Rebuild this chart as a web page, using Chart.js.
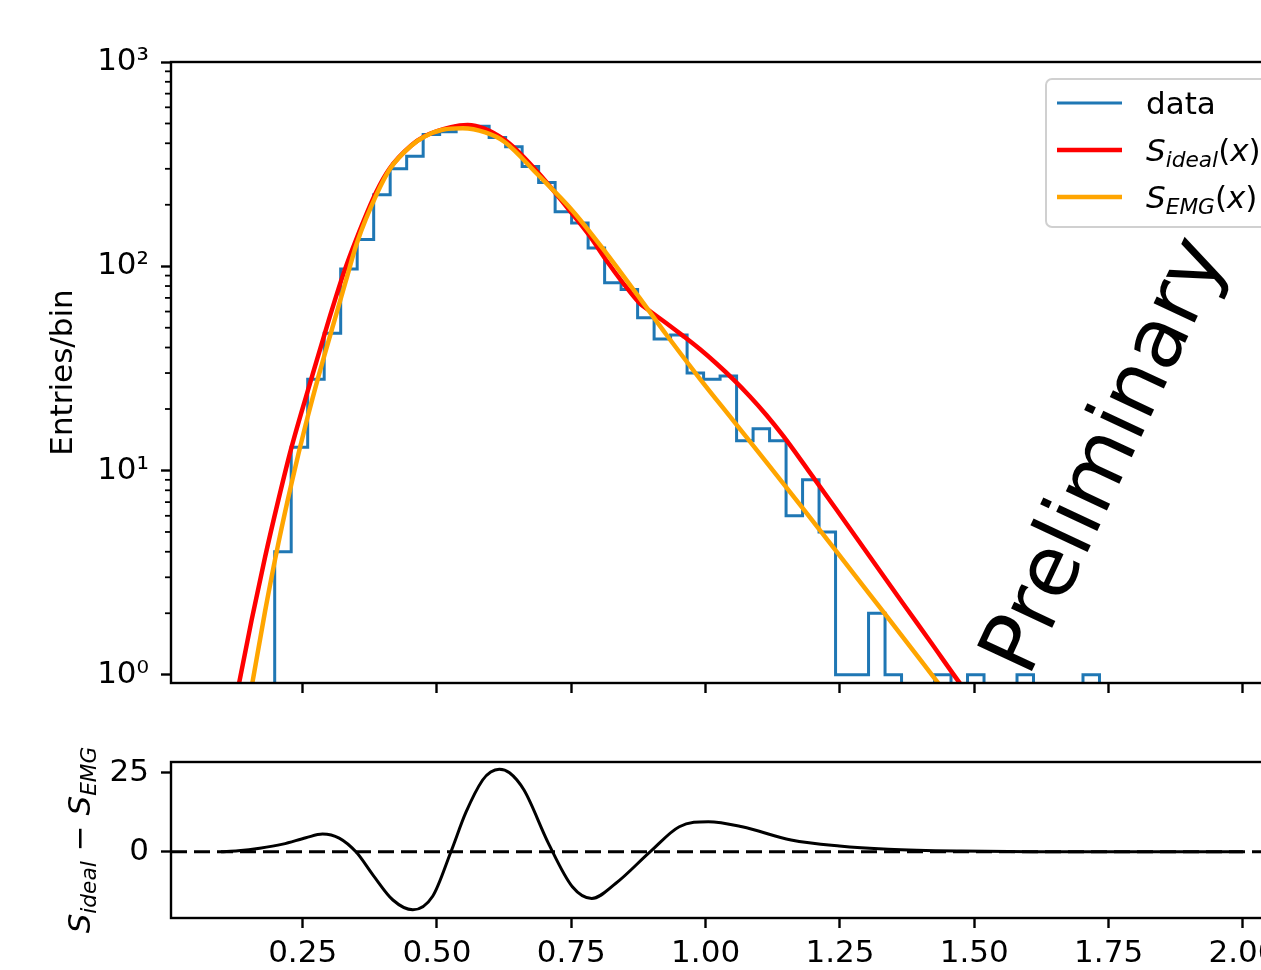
<!DOCTYPE html>
<html>
<head>
<meta charset="utf-8">
<script src="https://cdn.jsdelivr.net/npm/chart.js@4.4.0/dist/chart.umd.min.js"></script>
<style>
  html, body { margin: 0; padding: 0; background: #fff; overflow: hidden; }
  #wrap { position: relative; width: 1330px; height: 970px; }
  #top { position: absolute; left: 0; top: 0; }
  #bottom { position: absolute; left: 0; top: 720px; }
</style>
</head>
<body>
<div id="wrap">
  <canvas id="top" width="1330" height="720"></canvas>
  <canvas id="bottom" width="1330" height="250"></canvas>
</div>
<script>
// ===== histogram + fits =====
const FONT = "'DejaVu Sans', 'Liberation Sans', sans-serif";
const FS = 31;

// histogram: 50 equal bins between binLo and binHi
const binLo = 0.198, binHi = 1.733, nBins = 50;
const counts = [
  4, 13, 28, 47, 97, 135, 224, 300, 346, 442,
  455, 487, 484, 427, 385, 308, 257, 185, 163, 123,
  83, 77, 56, 44, 46, 30, 28, 29, 14, 16,
  14, 6, 9, 5, 1, 1, 2, 1, 0, 0,
  1, 0, 1, 0, 0, 1, 0, 0, 0, 1
];

// S_ideal(x)
const idealX = [0.126, 0.131, 0.155, 0.180, 0.205, 0.229, 0.266, 0.300, 0.326, 0.350, 0.387, 0.412, 0.452, 0.477, 0.526, 0.557,
  0.626, 0.688, 0.750, 0.784, 0.815, 0.846, 0.877, 0.896, 0.927, 0.958, 0.989, 1.020, 1.051, 1.082, 1.113, 1.144, 1.190,
  1.243, 1.305, 1.367, 1.420, 1.473, 1.486];
const idealY = [0.76, 0.89, 1.85, 3.76, 7.2, 12.9, 28, 56, 92, 136, 231, 301, 390, 433, 480, 492,
  416, 288, 183, 141, 107, 83, 66, 60.4, 52.6, 45.6, 39.3, 33.4, 28.0, 23.1, 18.7, 14.8, 10.1,
  6.46, 3.80, 2.24, 1.43, 0.91, 0.82];

// S_EMG(x)
const emgX = [0.152, 0.157, 0.180, 0.205, 0.230, 0.255, 0.280, 0.305, 0.330, 0.351, 0.388, 0.413, 0.452, 0.477, 0.510, 0.548,
  0.590, 0.626, 0.687, 0.753, 0.815, 0.877, 0.927, 0.989, 1.051, 1.113, 1.181, 1.243, 1.305, 1.367, 1.430, 1.440];
const emgY = [0.79, 0.93, 2.04, 4.42, 8.81, 16.5, 29.2, 49.7, 84.1, 130, 226, 301, 389, 432, 466, 474,
  452, 406, 282, 186, 116, 70, 46.2, 28.2, 17.6, 11.0, 6.53, 4.03, 2.48, 1.53, 0.93, 0.86];

// S_ideal - S_EMG
const diffX = [0.098, 0.130, 0.170, 0.213, 0.256, 0.287, 0.318, 0.350, 0.381, 0.418, 0.455, 0.492, 0.526, 0.554, 0.585, 0.600,
  0.616, 0.635, 0.662, 0.707, 0.752, 0.788, 0.833, 0.897, 0.951, 1.005, 1.068, 1.159, 1.249, 1.340, 1.475, 1.611, 2.000];
const diffY = [0, 0.3, 1.1, 2.4, 4.4, 5.6, 4.3, -0.2, -7.4, -15.3, -18.4, -14.1, 0, 12.5, 22.7, 25.2,
  26.1, 25.0, 19.5, 2.8, -11.1, -14.8, -10.0, 0, 7.9, 9.5, 7.9, 3.7, 1.8, 0.8, 0.2, 0, 0];

// axes
const xMin = 0.005, xMax = 2.095;
const xTicks = [0.25, 0.5, 0.75, 1.0, 1.25, 1.5, 1.75, 2.0];
const logMin = 0.911, logMax = 1000;
const logTicks = [1, 10, 100, 1000];
const logTickLabels = ['10⁰', '10¹', '10²', '10³'];
const diffMin = -21.0, diffMax = 28.4;
const diffTicks = [0, 25];

// texts
const yTitleTop = 'Entries/bin';
const legendRows = [
  { ds: 2, parts: [{ t: 'data' }] },
  { ds: 1, parts: [{ t: 'S', i: 1 }, { t: 'ideal', i: 1, sub: 1 }, { t: '(' }, { t: 'x', i: 1 }, { t: ')' }] },
  { ds: 0, parts: [{ t: 'S', i: 1 }, { t: 'EMG', i: 1, sub: 1 }, { t: '(' }, { t: 'x', i: 1 }, { t: ')' }] }
];
const diffLabel = [{ t: 'S', i: 1 }, { t: 'ideal', i: 1, sub: 1 }, { t: ' − ' }, { t: 'S', i: 1 }, { t: 'EMG', i: 1, sub: 1 }];
const watermarkText = 'Preliminary';
const watermarkAt = { x: 1.601, y: 0.958 };
const watermarkAngle = 65;

// ----- build the step outline of the histogram -----
const binW = (binHi - binLo) / nBins;
const floorVal = logMin / 4; // empty bins fall below the axis
const histPts = [{ x: binLo, y: floorVal }];
counts.forEach((c, i) => {
  const y = c > 0 ? c : floorVal;
  histPts.push({ x: binLo + i * binW, y }, { x: binLo + (i + 1) * binW, y });
});
histPts.push({ x: binHi, y: floorVal });

const pts = (xs, ys) => xs.map((x, i) => ({ x, y: ys[i] }));

// mathtext-ish run: italic pieces and subscripts
function mathWidth(ctx, parts, size) {
  let w = 0;
  parts.forEach(p => {
    ctx.font = (p.i ? 'italic ' : '') + (p.sub ? size * 0.7 : size) + 'px ' + FONT;
    w += ctx.measureText(p.t).width;
  });
  return w;
}
function drawMath(ctx, parts, size, x, y) {
  let cx = x;
  parts.forEach(p => {
    ctx.font = (p.i ? 'italic ' : '') + (p.sub ? size * 0.7 : size) + 'px ' + FONT;
    ctx.fillText(p.t, cx, y + (p.sub ? size * 0.2 : 0));
    cx += ctx.measureText(p.t).width;
  });
}

// ----- plugins -----
const frame = {
  id: 'frame',
  afterDatasetsDraw(chart) {
    const { ctx, chartArea: a } = chart;
    ctx.save();
    ctx.strokeStyle = '#000';
    ctx.lineWidth = 2.4;
    ctx.strokeRect(a.left, a.top, a.right - a.left, a.bottom - a.top);
    ctx.restore();
  }
};

const minorTicks = {
  id: 'minorTicks',
  afterDraw(chart) {
    const y = chart.scales.y, left = chart.chartArea.left, ctx = chart.ctx;
    ctx.save();
    ctx.strokeStyle = '#000';
    ctx.lineWidth = 1.8;
    for (let e = -1; e < 3; e++) {
      for (let m = 2; m < 10; m++) {
        const v = m * Math.pow(10, e);
        if (v < y.min || v > y.max) continue;
        const py = y.getPixelForValue(v);
        ctx.beginPath();
        ctx.moveTo(left, py);
        ctx.lineTo(left - 6, py);
        ctx.stroke();
      }
    }
    ctx.restore();
  }
};

const watermark = {
  id: 'watermark',
  afterDatasetsDraw(chart) {
    const { ctx, scales } = chart;
    ctx.save();
    ctx.translate(scales.x.getPixelForValue(watermarkAt.x), scales.y.getPixelForValue(watermarkAt.y));
    ctx.rotate(-watermarkAngle * Math.PI / 180);
    ctx.font = '83px ' + FONT;
    ctx.fillStyle = '#000';
    ctx.textBaseline = 'alphabetic';
    ctx.fillText(watermarkText, 0, 0);
    ctx.restore();
  }
};

const legendBox = {
  id: 'legendBox',
  afterDraw(chart) {
    const { ctx, chartArea: a } = chart;
    const left = a.right - 248, top = a.top + 17, h = 148;
    let tw = 0;
    legendRows.forEach(r => { tw = Math.max(tw, mathWidth(ctx, r.parts, FS)); });
    const w = 100 + tw + 14;
    ctx.save();
    ctx.beginPath();
    ctx.roundRect(left, top, w, h, 6);
    ctx.fillStyle = 'rgba(255,255,255,0.8)';
    ctx.fill();
    ctx.strokeStyle = '#d0d0d0';
    ctx.lineWidth = 2;
    ctx.stroke();
    legendRows.forEach((r, i) => {
      const ds = chart.data.datasets[r.ds];
      const cy = top + 24 + i * 47;
      ctx.strokeStyle = ds.borderColor;
      ctx.lineWidth = ds.borderWidth;
      ctx.beginPath();
      ctx.moveTo(left + 11, cy);
      ctx.lineTo(left + 76, cy);
      ctx.stroke();
      ctx.fillStyle = '#000';
      ctx.textBaseline = 'alphabetic';
      drawMath(ctx, r.parts, FS, left + 100, cy + 11);
    });
    ctx.restore();
  }
};

const diffTitle = {
  id: 'diffTitle',
  afterDraw(chart) {
    const { ctx, chartArea: a } = chart;
    ctx.save();
    ctx.translate(a.left - 81, (a.top + a.bottom) / 2);
    ctx.rotate(-Math.PI / 2);
    ctx.fillStyle = '#000';
    ctx.textBaseline = 'alphabetic';
    const w = mathWidth(ctx, diffLabel, FS);
    drawMath(ctx, diffLabel, FS, -w / 2, 0);
    ctx.restore();
  }
};

// ----- shared axis bits -----
const tickFont = { family: FONT, size: FS };
const tickGrid = { display: true, drawOnChartArea: false, drawTicks: true, tickLength: 10, tickWidth: 2.4, tickColor: '#000' };

function xAxis(showLabels, h) {
  return {
    type: 'linear', min: xMin, max: xMax,
    afterBuildTicks: s => { s.ticks = xTicks.map(v => ({ value: v })); },
    ticks: { display: showLabels, font: tickFont, color: '#000', padding: 7, maxRotation: 0, autoSkip: false,
             callback: v => v.toFixed(2) },
    grid: tickGrid,
    border: { display: false },
    afterFit: s => { s.height = h; }
  };
}

// ----- top: histogram + fits, log scale -----
new Chart(document.getElementById('top'), {
  type: 'line',
  data: {
    datasets: [
      { label: 'S_EMG(x)', data: pts(emgX, emgY), borderColor: '#ffa500', borderWidth: 4.5, cubicInterpolationMode: 'monotone' },
      { label: 'S_ideal(x)', data: pts(idealX, idealY), borderColor: '#ff0000', borderWidth: 4.5, cubicInterpolationMode: 'monotone' },
      { label: 'data', data: histPts, borderColor: '#1f77b4', borderWidth: 3, tension: 0 }
    ]
  },
  options: {
    responsive: false,
    animation: false,
    events: [],
    layout: { padding: { top: 62, right: 36, left: 0, bottom: 0 } },
    elements: { point: { radius: 0 }, line: { fill: false } },
    plugins: { legend: { display: false }, tooltip: { enabled: false } },
    scales: {
      x: xAxis(false, 37),
      y: {
        type: 'logarithmic', min: logMin, max: logMax,
        afterBuildTicks: s => { s.ticks = logTicks.map(v => ({ value: v, major: true })); },
        ticks: { font: tickFont, color: '#000', padding: 12, autoSkip: false,
                 callback: v => logTickLabels[logTicks.indexOf(v)] },
        grid: tickGrid,
        border: { display: false },
        title: { display: true, text: yTitleTop, font: tickFont, color: '#000', padding: { top: 45, bottom: 0 } },
        afterFit: s => { s.width = 171; }
      }
    }
  },
  plugins: [minorTicks, watermark, frame, legendBox]
});

// ----- bottom: difference of the two fits -----
new Chart(document.getElementById('bottom'), {
  type: 'line',
  data: {
    datasets: [
      { label: 'diff', data: pts(diffX, diffY), borderColor: '#000', borderWidth: 3, cubicInterpolationMode: 'monotone' },
      { label: 'zero', data: [{ x: xMin, y: 0 }, { x: xMax, y: 0 }], borderColor: '#000', borderWidth: 3, borderDash: [16, 7] }
    ]
  },
  options: {
    responsive: false,
    animation: false,
    events: [],
    layout: { padding: { top: 42, right: 36, left: 0, bottom: 0 } },
    elements: { point: { radius: 0 }, line: { fill: false } },
    plugins: { legend: { display: false }, tooltip: { enabled: false } },
    scales: {
      x: xAxis(true, 52),
      y: {
        type: 'linear', min: diffMin, max: diffMax,
        afterBuildTicks: s => { s.ticks = diffTicks.map(v => ({ value: v })); },
        ticks: { font: tickFont, color: '#000', padding: 12, autoSkip: false, callback: v => String(v) },
        grid: tickGrid,
        border: { display: false },
        afterFit: s => { s.width = 171; }
      }
    }
  },
  plugins: [frame, diffTitle]
});
</script>
</body>
</html>
